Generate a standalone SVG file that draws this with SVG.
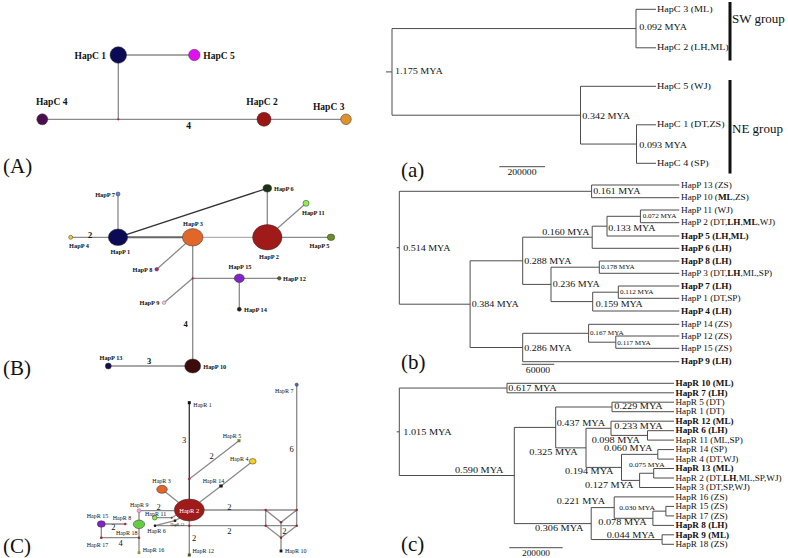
<svg xmlns="http://www.w3.org/2000/svg" width="788" height="558" viewBox="0 0 788 558">
<style>
text{font-family:"Liberation Serif","Times New Roman",serif;fill:#111}
.e{stroke:#8a8a8a;stroke-width:1.3;fill:none}
.ed{stroke:#333;stroke-width:1.3;fill:none}
.nd{stroke:#333;stroke-width:0.5}
.mv{fill:#a02525}
.la{font-size:9.5px;font-weight:bold}
.lb{font-size:6.3px;font-weight:bold}
.lc{font-size:6px}
.el{font-size:8.5px}
.elb{font-size:8.5px;font-weight:bold}
.pl{font-size:21px}
.tl{stroke:#4d4d4d;stroke-width:1;fill:none}
.a{font-size:7.8px}
.b{font-size:8px}
.bn{font-size:8.2px}
.sm{font-size:5.5px}
.cs{font-size:6.3px}
.bold{font-weight:bold}
.grp{font-size:13px}
.sc{font-size:7.5px}
</style>
<rect width="788" height="558" fill="#fff"/>

<!-- Panel A network -->
<g id="netA">
  <g id="connectorsA">
    <path class="e" d="M118.3,55 H194.3 M118.3,55 V119.3 M42.3,119.3 H346"/>
  </g>
  <g id="HapC1"><circle class="nd" cx="118.3" cy="55" r="8.3" fill="#0c0a55"/><text class="la" x="106" y="58.5" text-anchor="end">HapC 1</text></g>
  <g id="HapC5"><circle class="nd" cx="194.3" cy="55" r="5.7" fill="#e010f0"/><text class="la" x="203.3" y="58.5">HapC 5</text></g>
  <g id="HapC4"><circle class="nd" cx="42.3" cy="119.3" r="5.5" fill="#4b0f4f"/><text class="la" x="51.7" y="105" text-anchor="middle">HapC 4</text></g>
  <g id="HapC2"><circle class="nd" cx="264" cy="119.3" r="7" fill="#9b1515"/><text class="la" x="262" y="105" text-anchor="middle">HapC 2</text></g>
  <g id="HapC3"><circle class="nd" cx="346" cy="119.3" r="5.3" fill="#e0922a"/><text class="la" x="328.7" y="110" text-anchor="middle">HapC 3</text></g>
  <circle class="mv" cx="118.3" cy="119.3" r="1.1"/>
  <text class="la" x="188.7" y="128.5" text-anchor="middle">4</text>
</g>
<text class="pl" x="3" y="173">(A)</text>

<!-- Panel B network -->
<g id="netB">
  <g id="connectorsB">
    <path class="e" d="M70.7,237.3 H118 M118,194 V237.3 M267.3,237.3 H331 M267.3,188.3 V237.3 M267.3,237.3 L306,203.3 M192.7,237.3 L156.7,269.3 M192.7,237.3 V366 M192.7,278.3 H279.3 M239.3,278.3 V309.3 M192.7,278.3 L164,302.7 M108.3,366 H192.7"/>
    <path d="M118,237.3 H192.7" stroke="#666" stroke-width="2" fill="none"/>
    <path d="M192.7,237.3 H267.3" stroke="#b0b0b0" stroke-width="1.2" fill="none"/>
    <path class="ed" d="M118,237.3 L267.3,188.3"/>
  </g>
  <g id="HapP1"><ellipse class="nd" cx="118" cy="237.3" rx="9.7" ry="8.3" fill="#0c0a55"/><text class="lb" x="120.3" y="254" text-anchor="middle">HapP 1</text></g>
  <g id="HapP3"><ellipse class="nd" cx="192.7" cy="237.3" rx="10.3" ry="8.7" fill="#e0662a"/><text class="lb" x="193" y="226" text-anchor="middle">HapP 3</text></g>
  <g id="HapP2"><ellipse class="nd" cx="267.3" cy="237.3" rx="14.7" ry="12.7" fill="#a01a1a"/><text class="lb" x="269" y="259" text-anchor="middle">HapP 2</text></g>
  <g id="HapP5"><ellipse class="nd" cx="331" cy="237.3" rx="3.7" ry="3.3" fill="#6b8e23"/><text class="lb" x="319.5" y="248" text-anchor="middle">HapP 5</text></g>
  <g id="HapP4"><circle class="nd" cx="70.7" cy="237.3" r="2" fill="#f0d020"/><text class="lb" x="79" y="248" text-anchor="middle">HapP 4</text></g>
  <g id="HapP7"><circle class="nd" cx="118" cy="194" r="2" fill="#5a8ae0"/><text class="lb" x="115" y="196.5" text-anchor="end">HapP 7</text></g>
  <g id="HapP6"><ellipse class="nd" cx="267.3" cy="188.3" rx="4.3" ry="3.7" fill="#1a3315"/><text class="lb" x="274" y="191">HapP 6</text></g>
  <g id="HapP11"><circle class="nd" cx="306" cy="203.3" r="3" fill="#8cf050"/><text class="lb" x="313.3" y="215" text-anchor="middle">HapP 11</text></g>
  <g id="HapP8"><circle class="nd" cx="156.7" cy="269.3" r="1.8" fill="#d01a70"/><text class="lb" x="152.3" y="271.8" text-anchor="end">HapP 8</text></g>
  <g id="HapP15"><ellipse class="nd" cx="239.3" cy="278.3" rx="5" ry="4.3" fill="#8025c8"/><text class="lb" x="240" y="268.5" text-anchor="middle">HapP 15</text></g>
  <g id="HapP12"><circle class="nd" cx="279.3" cy="278.3" r="1.8" fill="#6b5a1a"/><text class="lb" x="283" y="280.8">HapP 12</text></g>
  <g id="HapP14"><circle class="nd" cx="239.3" cy="309.3" r="2" fill="#2a1a10"/><text class="lb" x="244" y="311.8">HapP 14</text></g>
  <g id="HapP9"><circle cx="164" cy="302.7" r="1.8" fill="#f5c5e0" stroke="#a06080" stroke-width="0.5"/><text class="lb" x="159.3" y="305.2" text-anchor="end">HapP 9</text></g>
  <g id="HapP10"><ellipse class="nd" cx="192.7" cy="366" rx="8" ry="7" fill="#3d0b0b"/><text class="lb" x="203.3" y="368.5">HapP 10</text></g>
  <g id="HapP13"><circle class="nd" cx="108.3" cy="366" r="3" fill="#141050"/><text class="lb" x="111" y="360" text-anchor="middle">HapP 13</text></g>
  <circle class="mv" cx="192.7" cy="278.3" r="1.1"/>
  <text class="elb" x="90" y="238" text-anchor="middle">2</text>
  <text class="elb" x="185.7" y="327" text-anchor="middle">4</text>
  <text class="elb" x="149" y="363.5" text-anchor="middle">3</text>
</g>
<text class="pl" x="3" y="374.5">(B)</text>

<!-- Panel C network -->
<g id="netC">
  <g id="connectorsC">
    <path class="ed" d="M189.3,402.7 V499"/>
    <path class="e" d="M189.3,521 V555 M189.3,479 L239,440.7 M252.7,461.3 L221,486 L200,502 M162,489.3 L178.3,502.3 M139,510.7 H174.3 M139,510.7 V552.7 M154.7,517.7 H171.7 L178,514 M155,525.7 L175,520.7 L180,518 M155,525.7 H296.7 M204,510 H296.7 M296.7,384.7 V525.7 M265.7,510 V525.7 M265.7,510 L281,522.3 L296.7,510 M265.7,525.7 L281,537.7 L296.7,525.7 M281,522.3 V551 M101.3,524 H125.3 M101.3,524 V537.7 H139"/>
  </g>
  <g id="HapR2"><ellipse class="nd" cx="189.3" cy="510" rx="15" ry="11" fill="#a01a1a"/><text x="189.3" y="512.5" text-anchor="middle" style="font-size:6.5px;fill:#fff">HapR 2</text></g>
  <g id="HapR1"><rect x="187.8" y="401.2" width="3" height="3" fill="#111"/><text class="lc" x="193.3" y="406.5">HapR 1</text></g>
  <g id="HapR12"><rect x="187.8" y="553.5" width="3" height="3" fill="#4a5a1a"/><text class="lc" x="192.5" y="553">HapR 12</text></g>
  <g id="HapR5"><rect x="237.5" y="439.2" width="3" height="3" fill="#6a8a20"/><text class="lc" x="222.7" y="438">HapR 5</text></g>
  <g id="HapR4"><ellipse class="nd" cx="252.7" cy="461.3" rx="3.4" ry="2.8" fill="#f5d020"/><text class="lc" x="230" y="461">HapR 4</text></g>
  <g id="HapR14"><rect x="219.3" y="484.5" width="3.4" height="3" fill="#1a1a1a"/><text class="lc" x="202.7" y="483">HapR 14</text></g>
  <g id="HapR3"><ellipse class="nd" cx="162" cy="489.3" rx="5.3" ry="4" fill="#e0662a"/><text class="lc" x="152.3" y="483">HapR 3</text></g>
  <g id="HapR9"><circle cx="139" cy="510.7" r="2" fill="#f0a8d8" stroke="#a06080" stroke-width="0.5"/><text class="lc" x="130" y="507">HapR 9</text></g>
  <g id="HapR11"><circle class="nd" cx="154.7" cy="517.7" r="2.3" fill="#80f040"/><text class="lc" x="145" y="515.5">HapR 11</text></g>
  <g id="HapR6"><circle cx="155" cy="525.7" r="1.3" fill="#111"/><text class="lc" x="147.3" y="533">HapR 6</text></g>
  <g id="HapR13"><rect x="173.8" y="519.5" width="2.4" height="2.4" fill="#222"/><text x="170.5" y="525.5" style="font-size:3.8px">HapR 13</text></g>
  <g id="HapR18"><ellipse class="nd" cx="139" cy="524.3" rx="5.7" ry="4.3" fill="#66cc44"/><text class="lc" x="116" y="535">HapR 18</text></g>
  <g id="HapR16"><rect x="137.6" y="551.3" width="2.8" height="2.8" fill="#a09040"/><text class="lc" x="142.7" y="551.5">HapR 16</text></g>
  <g id="HapR15"><ellipse class="nd" cx="101.3" cy="524" rx="4" ry="3.3" fill="#8025c8"/><text class="lc" x="86.7" y="518">HapR 15</text></g>
  <g id="HapR8"><circle cx="125.3" cy="524" r="1.3" fill="#b02040"/><text class="lc" x="112.7" y="520">HapR 8</text></g>
  <g id="HapR17"><circle class="mv" cx="101.3" cy="537.7" r="1.3"/><text class="lc" x="86.7" y="546.5">HapR 17</text></g>
  <g id="HapR7"><circle class="nd" cx="296.7" cy="384.7" r="1.6" fill="#4a6ad0"/><text class="lc" x="275" y="393">HapR 7</text></g>
  <g id="HapR10"><rect x="279.6" y="549.6" width="2.8" height="2.8" fill="#201010"/><text class="lc" x="285" y="553">HapR 10</text></g>
  <g id="mvC">
    <circle class="mv" cx="189.3" cy="479" r="1.2"/>
    <circle class="mv" cx="139" cy="537.7" r="1.2"/>
    <circle class="mv" cx="189.3" cy="525.7" r="1.2"/>
    <circle class="mv" cx="171.7" cy="517.7" r="1"/>
    <circle class="mv" cx="265.7" cy="510" r="1.2"/>
    <circle class="mv" cx="296.7" cy="510" r="1.2"/>
    <circle class="mv" cx="265.7" cy="525.7" r="1.2"/>
    <circle class="mv" cx="296.7" cy="525.7" r="1.2"/>
    <circle class="mv" cx="281" cy="522.3" r="1.2"/>
    <circle class="mv" cx="281" cy="537.7" r="1.2"/>
  </g>
  <text class="el" x="184" y="443" text-anchor="middle">3</text>
  <text class="el" x="211.7" y="459" text-anchor="middle">2</text>
  <text class="el" x="158.7" y="509.5" text-anchor="middle">2</text>
  <text class="el" x="229.3" y="509.5" text-anchor="middle">2</text>
  <text class="el" x="229.3" y="534" text-anchor="middle">2</text>
  <text class="el" x="113.3" y="529.5" text-anchor="middle">2</text>
  <text class="el" x="120.7" y="545.5" text-anchor="middle">4</text>
  <text class="el" x="284.3" y="534" text-anchor="middle">2</text>
  <text class="el" x="291.7" y="452" text-anchor="middle">6</text>
  <text class="el" x="194" y="541" text-anchor="middle">2</text>
</g>
<text class="pl" x="3" y="553">(C)</text>

<!-- Tree a -->
<g id="treeA">
  <path class="tl" d="M386,71.9 H392 M636,28.55 H392 V115.2 H580.5 M656,9.3 H636 V47.8 H656 M656,86.3 H580.5 V144.05 H636.5 M656,124.8 H636.5 V163.3 H656"/>
  <path d="M730,2 V60.5 M730,80 V173.5" stroke="#111" stroke-width="3"/>
  <path class="tl" d="M499.3,166.7 H545"/>
  <g transform="scale(1.3,1)">
    <text class="a" x="303.85" y="74">1.175 MYA</text>
    <text class="a" x="491.77" y="30.5">0.092 MYA</text>
    <text class="a" x="447.92" y="119">0.342 MYA</text>
    <text class="a" x="491.77" y="148">0.093 MYA</text>
    <text class="a" x="505.38" y="12">HapC 3 (ML)</text>
    <text class="a" x="505.38" y="50.5">HapC 2 (LH,ML)</text>
    <text class="a" x="505.38" y="89">HapC 5 (WJ)</text>
    <text class="a" x="505.38" y="127.5">HapC 1 (DT,ZS)</text>
    <text class="a" x="505.38" y="166">HapC 4 (SP)</text>
    <text class="sc" x="401.54" y="175" text-anchor="middle">200000</text>
  </g>
  <text class="grp" x="732" y="23">SW group</text>
  <text class="grp" x="732" y="133">NE group</text>
</g>
<text class="pl" x="401" y="176.5">(a)</text>

<!-- Tree b -->
<g id="treeB">
  <path class="tl" d="M396.7,247.7 H399.3 M591.6,191.3 H399.3 V304.2 H470.1 M679.3,185 H591.6 V197.7 H679.3 M522.7,260.8 H470.1 V347.5 H522.7 M592.2,237.2 H522.7 V284.4 H551 M588.6,333.3 H522.7 V361.7 H679.3 M607,226.2 H592.2 V248.3 H679.3 M640.4,216.3 H607 V236 H679.3 M679.3,210 H640.4 V222.7 H679.3 M599.3,267.2 H551 V301.6 H592.7 M679.3,261 H599.3 V273.3 H679.3 M618.3,292.2 H592.7 V311 H679.3 M679.3,286 H618.3 V298.3 H679.3 M679.3,324.3 H588.6 V342.2 H615.8 M679.3,336 H615.8 V348.3 H679.3"/>
  <path class="tl" d="M521.7,364.3 H554.3"/>
  <g transform="scale(1.22,1)">
    <text class="bn" x="330.57" y="251.5">0.514 MYA</text>
    <text class="bn" x="486.31" y="194">0.161 MYA</text>
    <text class="bn" x="444.51" y="235">0.160 MYA</text>
    <text class="bn" x="498.61" y="231">0.133 MYA</text>
    <text class="bn" x="429.75" y="264">0.288 MYA</text>
    <text class="bn" x="453.03" y="287.5">0.236 MYA</text>
    <text class="bn" x="488.28" y="307.5">0.159 MYA</text>
    <text class="bn" x="386.64" y="307.5">0.384 MYA</text>
    <text class="bn" x="429.75" y="351">0.286 MYA</text>
  </g>
  <g transform="scale(1.3,1)">
    <text class="sm" x="494.38" y="218">0.072 MYA</text>
    <text class="sm" x="462.31" y="269.5">0.178 MYA</text>
    <text class="sm" x="476.92" y="293.7">0.112 MYA</text>
    <text class="sm" x="453.85" y="335">0.167 MYA</text>
    <text class="sm" x="474.85" y="345">0.117 MYA</text>
    <text class="sc" x="413.85" y="373.5" text-anchor="middle">60000</text>
  </g>
  <g transform="scale(1.15,1)">
    <text class="b" x="592.17" y="187.8">HapP 13 (ZS)</text>
    <text class="b" x="592.17" y="200.5">HapP 10 (<tspan class="bold">ML</tspan>,ZS)</text>
    <text class="b" x="592.17" y="212.8">HapP 11 (WJ)</text>
    <text class="b" x="592.17" y="225.5">HapP 2 (DT,<tspan class="bold">LH</tspan>,<tspan class="bold">ML</tspan>,WJ)</text>
    <text class="b bold" x="592.17" y="238.8">HapP 5 (LH,ML)</text>
    <text class="b bold" x="592.17" y="251.1">HapP 6 (LH)</text>
    <text class="b bold" x="592.17" y="263.8">HapP 8 (LH)</text>
    <text class="b" x="592.17" y="276.1">HapP 3 (DT,<tspan class="bold">LH</tspan>,ML,SP)</text>
    <text class="b bold" x="592.17" y="288.8">HapP 7 (LH)</text>
    <text class="b" x="592.17" y="301.1">HapP 1 (DT,SP)</text>
    <text class="b bold" x="592.17" y="313.8">HapP 4 (LH)</text>
    <text class="b" x="592.17" y="327.1">HapP 14 (ZS)</text>
    <text class="b" x="592.17" y="338.8">HapP 12 (ZS)</text>
    <text class="b" x="592.17" y="351.1">HapP 15 (ZS)</text>
    <text class="b bold" x="592.17" y="364.5">HapP 9 (LH)</text>
  </g>
</g>
<text class="pl" x="401" y="368.5">(b)</text>

<!-- Tree c -->
<g id="treeC">
  <path class="tl" d="M396.7,431.8 H399.3 M507,388.05 H399.3 V475.5 H514.3 M674,383.3 H507 V392.8 H674 M555.7,427.4 H514.3 V523.6 H591.2 M612,407 H555.7 V447.85 H586 M674,402.2 H612 V411.7 H674 M611,428.3 H586 V467.4 H621.5 M674,421.2 H611 V435.4 H647.5 M674,430.7 H647.5 V440.1 H674 M657.8,454.35 H621.5 V480.4 H639.6 M674,449.6 H657.8 V459.1 H674 M653.7,473.25 H639.6 V487.5 H674 M674,468.5 H653.7 V478 H674 M614.2,507.6 H591.2 V539.55 H662.1 M674,496.9 H614.2 V518.3 H652.9 M665.9,511.15 H652.9 V525.4 H674 M674,506.4 H665.9 V515.9 H674 M674,534.8 H662.1 V544.3 H674"/>
  <path class="tl" d="M509.3,547.7 H562.7"/>
  <g transform="scale(1.25,1)">
    <text class="bn" x="322.64" y="435.3">1.015 MYA</text>
    <text class="bn" x="406.64" y="391.5">0.617 MYA</text>
    <text class="bn" x="364" y="473">0.590 MYA</text>
    <text class="bn" x="445.36" y="426.5">0.437 MYA</text>
    <text class="bn" x="491.44" y="409.5">0.229 MYA</text>
    <text class="bn" x="491.44" y="429.5">0.233 MYA</text>
    <text class="bn" x="473.36" y="443">0.098 MYA</text>
    <text class="bn" x="423.44" y="455.5">0.325 MYA</text>
    <text class="bn" x="483.2" y="451.5">0.060 MYA</text>
    <text class="bn" x="452" y="474.5">0.194 MYA</text>
    <text class="bn" x="468" y="488">0.127 MYA</text>
    <text class="bn" x="445.36" y="504">0.221 MYA</text>
    <text class="bn" x="478.64" y="525.5">0.078 MYA</text>
    <text class="bn" x="428" y="531.5">0.306 MYA</text>
    <text class="bn" x="485.36" y="538.5">0.044 MYA</text>
    <text class="sc" x="428.8" y="556" text-anchor="middle">200000</text>
  </g>
  <g transform="scale(1.2,1)">
    <text class="cs" x="524.17" y="467.5">0.075 MYA</text>
    <text class="cs" x="516.08" y="510.5">0.030 MYA</text>
  </g>
  <g transform="scale(1.15,1)">
    <text class="b bold" x="587.39" y="386.1">HapR 10 (ML)</text>
    <text class="b bold" x="587.39" y="395.6">HapR 7 (LH)</text>
    <text class="b" x="587.39" y="405">HapR 5 (DT)</text>
    <text class="b" x="587.39" y="414.5">HapR 1 (DT)</text>
    <text class="b bold" x="587.39" y="424">HapR 12 (ML)</text>
    <text class="b bold" x="587.39" y="433.5">HapR 6 (LH)</text>
    <text class="b" x="587.39" y="442.9">HapR 11 (ML,SP)</text>
    <text class="b" x="587.39" y="452.4">HapR 14 (SP)</text>
    <text class="b" x="587.39" y="461.9">HapR 4 (DT,WJ)</text>
    <text class="b bold" x="587.39" y="471.3">HapR 13 (ML)</text>
    <text class="b" x="587.39" y="480.8">HapR 2 (DT,<tspan class="bold">LH</tspan>,ML,SP,WJ)</text>
    <text class="b" x="587.39" y="490.3">HapR 3 (DT,SP,WJ)</text>
    <text class="b" x="587.39" y="499.7">HapR 16 (ZS)</text>
    <text class="b" x="587.39" y="509.2">HapR 15 (ZS)</text>
    <text class="b" x="587.39" y="518.7">HapR 17 (ZS)</text>
    <text class="b bold" x="587.39" y="528.2">HapR 8 (LH)</text>
    <text class="b bold" x="587.39" y="537.6">HapR 9 (ML)</text>
    <text class="b" x="587.39" y="547.1">HapR 18 (ZS)</text>
  </g>
</g>
<text class="pl" x="401" y="551">(c)</text>
</svg>
